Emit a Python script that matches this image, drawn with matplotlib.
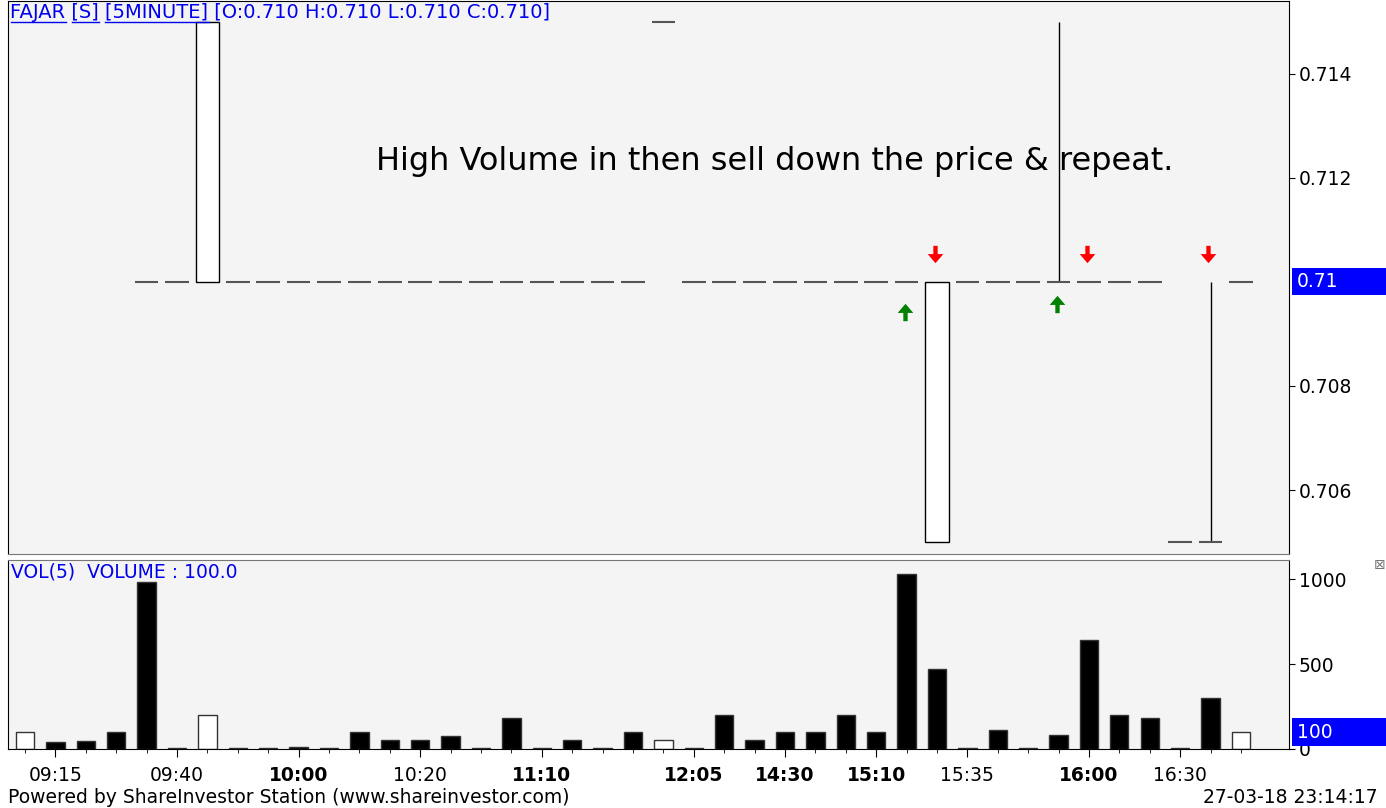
import matplotlib.pyplot as plt
import matplotlib.transforms as transforms
from matplotlib.patches import Rectangle
from matplotlib.path import Path

# 5分足のデータ (0.7154 より上は画面外)
opens = [0.720, 0.720, 0.720, 0.720, 0.710, 0.710, 0.710, 0.710, 0.710, 0.710,
         0.710, 0.710, 0.710, 0.710, 0.710, 0.710, 0.710, 0.710, 0.710, 0.710,
         0.710, 0.715, 0.710, 0.710, 0.710, 0.710, 0.710, 0.710, 0.710, 0.710,
         0.710, 0.710, 0.710, 0.710, 0.710, 0.710, 0.710, 0.710, 0.705, 0.705,
         0.710]
highs = [0.720, 0.720, 0.720, 0.720, 0.710, 0.710, 0.715, 0.710, 0.710, 0.710,
         0.710, 0.710, 0.710, 0.710, 0.710, 0.710, 0.710, 0.710, 0.710, 0.710,
         0.710, 0.715, 0.710, 0.710, 0.710, 0.710, 0.710, 0.710, 0.710, 0.710,
         0.710, 0.710, 0.710, 0.710, 0.715, 0.710, 0.710, 0.710, 0.705, 0.710,
         0.710]
lows = [0.720, 0.720, 0.720, 0.720, 0.710, 0.710, 0.710, 0.710, 0.710, 0.710,
        0.710, 0.710, 0.710, 0.710, 0.710, 0.710, 0.710, 0.710, 0.710, 0.710,
        0.710, 0.715, 0.710, 0.710, 0.710, 0.710, 0.710, 0.710, 0.710, 0.710,
        0.705, 0.710, 0.710, 0.710, 0.710, 0.710, 0.710, 0.710, 0.705, 0.705,
        0.710]
closes = [0.720, 0.720, 0.720, 0.720, 0.710, 0.710, 0.715, 0.710, 0.710, 0.710,
          0.710, 0.710, 0.710, 0.710, 0.710, 0.710, 0.710, 0.710, 0.710, 0.710,
          0.710, 0.715, 0.710, 0.710, 0.710, 0.710, 0.710, 0.710, 0.710, 0.710,
          0.705, 0.710, 0.710, 0.710, 0.710, 0.710, 0.710, 0.710, 0.705, 0.705,
          0.710]
volumes = [100, 40, 50, 100, 980, 5, 200, 5, 3, 10,
           3, 100, 55, 55, 75, 3, 185, 3, 55, 3,
           100, 55, 3, 200, 55, 100, 100, 200, 100, 1030,
           470, 3, 110, 5, 80, 640, 200, 180, 5, 300,
           100]
up_bars = [0, 6, 21, 40]
buy_signals = [29, 34]
sell_signals = [30, 35, 39]

label_pos = [1, 5, 9, 13, 17, 22, 25, 28, 31, 35, 38]
time_labels = ['09:15', '09:40', '10:00', '10:20', '11:10', '12:05',
               '14:30', '15:10', '15:35', '16:00', '16:30']
bold_labels = ['10:00', '11:10', '12:05', '14:30', '15:10', '16:00']

price_ticks = [0.706, 0.708, 0.712, 0.714]
last_price = 0.710
last_volume = 100

title = 'FAJAR [S] [5MINUTE] [O:0.710 H:0.710 L:0.710 C:0.710]'
link_words = ['FAJAR', '[S]', '[5MINUTE]']

BG = '#f4f4f4'
BLUE = '#0000ee'
FS = 13.5
plt.rcParams['font.family'] = ['DejaVu Sans']

W, H = 1386, 808
fig = plt.figure(figsize=(W / 100, H / 100), dpi=100)


def fig_rect(left, top, right, bottom):
    return [left / W, 1 - bottom / H, (right - left) / W, (bottom - top) / H]


ax = fig.add_axes(fig_rect(8, 1, 1289, 554))
ax2 = fig.add_axes(fig_rect(8, 560, 1289, 749), sharex=ax)
for a in (ax, ax2):
    a.set_facecolor(BG)
    a.yaxis.tick_right()
    a.tick_params(axis='y', labelsize=FS, length=4, pad=3)

n = len(closes)
ax.set_xlim(-0.56, n + 0.58)
ax.set_ylim(0.70477, 0.71540)

# ローソク足
for i in range(n):
    o, h, l, c = opens[i], highs[i], lows[i], closes[i]
    if h > max(o, c):
        ax.vlines(i, max(o, c), h, color='black', lw=1)
    if l < min(o, c):
        ax.vlines(i, l, min(o, c), color='black', lw=1)
    if o == c:
        ax.hlines(o, i - 0.39, i + 0.39, color='#555555', lw=1.5)
    else:
        ax.add_patch(Rectangle((i - 0.38, min(o, c)), 0.76, abs(c - o),
                               facecolor='white', edgecolor='black', lw=1, zorder=3))

# 売買シグナルの矢印
arrow_up = [(-0.25, -1), (0.25, -1), (0.25, -0.05), (0.9, -0.05), (0, 1), (-0.9, -0.05),
            (-0.25, -0.05), (0, 0)]
arrow_down = [(x, -y) for x, y in arrow_up]
up_marker = Path(arrow_up, closed=True)
down_marker = Path(arrow_down, closed=True)

for i in sell_signals:
    tr = ax.transData + transforms.ScaledTranslation(0, 0.28, fig.dpi_scale_trans)
    ax.plot(i - 0.07, highs[i], marker=down_marker, ms=12.5, color='#ff0000',
            mew=0, transform=tr)
for k, i in enumerate(buy_signals):
    dy = [0.30, 0.22][k]
    tr = ax.transData + transforms.ScaledTranslation(0, -dy, fig.dpi_scale_trans)
    ax.plot(i - 0.05, lows[i], marker=up_marker, ms=12.5, color='#008000',
            mew=0, transform=tr)

ax.set_yticks(price_ticks)
ax.set_yticklabels([f'{t:.3f}' for t in price_ticks])
ax.tick_params(axis='x', which='both', bottom=False, labelbottom=False)

# タイトルとリンク風の下線
title_x = 10.5
fig.text(title_x / W, 1 - 3 / H, title, color=BLUE, fontsize=14, va='top', ha='left')
renderer = fig.canvas.get_renderer()


def text_width(s):
    t = fig.text(0, 0, s, fontsize=14)
    w = t.get_window_extent(renderer).width
    t.remove()
    return w


for word in link_words:
    end = title.index(word) + len(word)
    x1 = title_x + text_width(title[:end])
    x0 = x1 - text_width(word)
    fig.add_artist(plt.Line2D([x0 / W, x1 / W], [1 - 22 / H, 1 - 22 / H], color=BLUE, lw=1))

ax.text(0.287, 0.709, 'High Volume in then sell down the price & repeat.',
        transform=ax.transAxes, fontsize=23, va='center', ha='left')

# 出来高
bar_colors = ['white' if i in up_bars else 'black' for i in range(n)]
ax2.bar(range(n), volumes, width=0.6, color=bar_colors, edgecolor='#333333', lw=1)
ax2.set_ylim(0, 1112)
ax2.set_yticks([0, 500, 1000])
ax2.set_xticks(range(n), minor=True)
ax2.set_xticks(label_pos)
ax2.set_xticklabels(time_labels, fontsize=FS)
for lab in ax2.get_xticklabels():
    if lab.get_text() in bold_labels:
        lab.set_fontweight('bold')
ax2.tick_params(axis='x', which='major', length=6, pad=6)
ax2.tick_params(axis='x', which='minor', length=3)
ax2.text(0.002, 0.985, 'VOL(5)  VOLUME : 100.0', transform=ax2.transAxes,
         color=BLUE, fontsize=FS, va='top', ha='left')

ax.spines['bottom'].set_color('#777777')
ax2.spines['top'].set_color('#777777')


def value_box(a, y, text, half_h):
    tr = transforms.blended_transform_factory(a.transAxes, a.transData)
    a.add_patch(Rectangle((1.002, y - half_h), 0.08, 2 * half_h, transform=tr,
                          facecolor='#0000ff', edgecolor='none', clip_on=False, zorder=5))
    a.text(1.006, y, text, transform=tr, color='white', fontsize=FS,
           va='center', ha='left', zorder=6, clip_on=False)


value_box(ax, last_price, '0.71', 0.00026)
value_box(ax2, last_volume, '100', 80)

fig.text(8 / W, 1 - 788 / H, 'Powered by ShareInvestor Station (www.shareinvestor.com)',
         fontsize=FS, va='top', ha='left')
fig.text(1378 / W, 1 - 788 / H, '27-03-18 23:14:17', fontsize=FS, va='top', ha='right')
fig.text(1380 / W, 1 - 565 / H, '\u22a0', fontsize=10, color='#777777', va='center', ha='center')

fig.savefig('out.png', dpi=100)
